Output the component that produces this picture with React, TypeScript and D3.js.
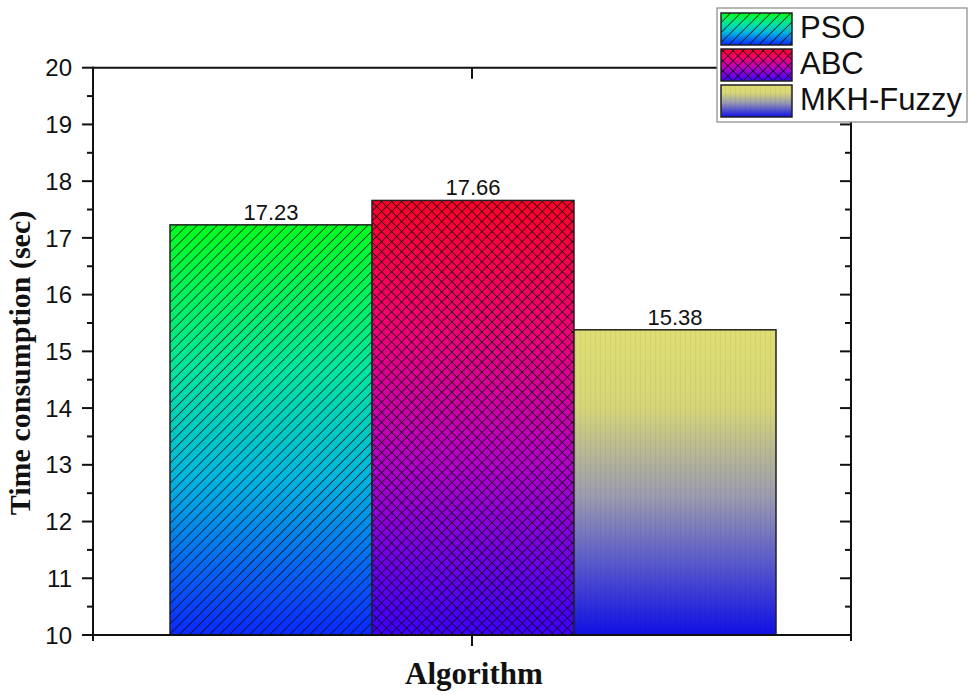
import React from "react";
import * as d3 from "d3";

const series = ["PSO", "ABC", "MKH-Fuzzy"];
const values = [17.23, 17.66, 15.38];
const valueLabels = ["17.23", "17.66", "15.38"];
const yTicks = [10, 11, 12, 13, 14, 15, 16, 17, 18, 19, 20];
const yMinorTicks = [10.5, 11.5, 12.5, 13.5, 14.5, 15.5, 16.5, 17.5, 18.5, 19.5];
const xTitle = "Algorithm";
const yTitle = "Time consumption (sec)";

const W = 971;
const H = 695;
const left = 93;
const right = 851;
const top = 67.7;
const bottom = 635;

export default function App() {
  const y = d3.scaleLinear().domain([10, 20]).range([bottom, top]);
  const x = d3.scaleBand<string>().domain(series).range([170, 776]).padding(0);
  const cx = (left + right) / 2;

  const fills = ["url(#gPSO)", "url(#gABC)", "url(#gMKH)"];
  const hatches = ["url(#hDiag)", "url(#hCross)", "url(#hVert)"];

  return (
    <svg width={W} height={H} style={{ position: "absolute", left: 0, top: 0 }}>
      <defs>
        <linearGradient id="gPSO" x1="0" y1="0" x2="0" y2="1">
          <stop offset="0" stopColor="#00ff1e" />
          <stop offset="0.35" stopColor="#00e6a0" />
          <stop offset="0.62" stopColor="#00b4e0" />
          <stop offset="1" stopColor="#0a28ff" />
        </linearGradient>
        <linearGradient id="gABC" x1="0" y1="0" x2="0" y2="1">
          <stop offset="0" stopColor="#ff0028" />
          <stop offset="0.3" stopColor="#f00078" />
          <stop offset="0.6" stopColor="#b400c8" />
          <stop offset="1" stopColor="#3c00ff" />
        </linearGradient>
        <linearGradient id="gMKH" x1="0" y1="0" x2="0" y2="1">
          <stop offset="0" stopColor="#dede72" />
          <stop offset="0.25" stopColor="#d6d678" />
          <stop offset="0.55" stopColor="#9a9ab0" />
          <stop offset="0.8" stopColor="#4e4ed0" />
          <stop offset="1" stopColor="#1010e6" />
        </linearGradient>
        <pattern id="hDiag" patternUnits="userSpaceOnUse" width="7.1" height="7.1" patternTransform="rotate(45)">
          <line x1="0" y1="0" x2="0" y2="7.1" stroke="#0a0a0a" strokeWidth="1.4" />
        </pattern>
        <pattern id="hCross" patternUnits="userSpaceOnUse" width="7.1" height="7.1" patternTransform="rotate(45)">
          <line x1="0" y1="0" x2="0" y2="7.1" stroke="#0a0a0a" strokeWidth="1.4" />
          <line x1="0" y1="0" x2="7.1" y2="0" stroke="#0a0a0a" strokeWidth="1.4" />
        </pattern>
        <pattern id="hVert" patternUnits="userSpaceOnUse" width="5" height="5">
          <line x1="0" y1="0" x2="0" y2="5" stroke="#000" strokeOpacity="0.06" strokeWidth="1.5" />
        </pattern>
      </defs>
      <rect x={0} y={0} width={W} height={H} fill="#fff" />

      {/* bars */}
      {series.map((s, i) => {
        const bx = x(s) as number;
        const bw = x.bandwidth();
        const by = y(values[i]);
        const bh = y(10) - by;
        return (
          <g key={s}>
            <rect x={bx} y={by} width={bw} height={bh} fill={fills[i]} />
            <rect x={bx} y={by} width={bw} height={bh} fill={hatches[i]} />
            <rect x={bx} y={by} width={bw} height={bh} fill="none" stroke="#222" strokeWidth={1.5} />
            <text
              x={bx + bw / 2}
              y={by - 5}
              textAnchor="middle"
              fontFamily="Liberation Sans, Arial, sans-serif"
              fontSize={22}
              fill="#111"
            >
              {valueLabels[i]}
            </text>
          </g>
        );
      })}

      {/* frame */}
      <line x1={left} x2={right} y1={top} y2={top} stroke="#111" strokeWidth={2} />
      <line x1={left} x2={right} y1={bottom} y2={bottom} stroke="#111" strokeWidth={2} />
      <line x1={left} x2={left} y1={top - 1} y2={bottom + 6} stroke="#111" strokeWidth={2} />
      <line x1={right} x2={right} y1={top - 1} y2={bottom + 6} stroke="#111" strokeWidth={2} />

      {/* y ticks */}
      {yTicks.map((t) => (
        <g key={"t" + t}>
          <line x1={left - 11} x2={left} y1={y(t)} y2={y(t)} stroke="#111" strokeWidth={2} />
          <line x1={right - 11} x2={right} y1={y(t)} y2={y(t)} stroke="#111" strokeWidth={2} />
          <text
            x={72}
            y={y(t)}
            dy="0.36em"
            textAnchor="end"
            fontFamily="Liberation Sans, Arial, sans-serif"
            fontSize={24}
            fill="#111"
          >
            {t}
          </text>
        </g>
      ))}
      {yMinorTicks.map((t) => (
        <g key={"m" + t}>
          <line x1={left - 6} x2={left} y1={y(t)} y2={y(t)} stroke="#111" strokeWidth={2} />
          <line x1={right - 6} x2={right} y1={y(t)} y2={y(t)} stroke="#111" strokeWidth={2} />
        </g>
      ))}

      {/* x ticks */}
      <line x1={cx} x2={cx} y1={bottom} y2={bottom + 11} stroke="#111" strokeWidth={2} />
      <line x1={cx} x2={cx} y1={top} y2={top + 11} stroke="#111" strokeWidth={2} />

      {/* titles */}
      <text
        x={cx + 2}
        y={684}
        textAnchor="middle"
        fontFamily="Liberation Serif, Times New Roman, serif"
        fontWeight="bold"
        fontSize={31}
        fill="#111"
      >
        {xTitle}
      </text>
      <text
        transform={`translate(30, 363) rotate(-90)`}
        textAnchor="middle"
        fontFamily="Liberation Serif, Times New Roman, serif"
        fontWeight="bold"
        fontSize={30}
        fill="#111"
      >
        {yTitle}
      </text>

      {/* legend */}
      <rect x={717} y={8} width={250} height={114} fill="#fff" stroke="#888" strokeWidth={1.2} />
      {series.map((s, i) => {
        const ly = [13, 49, 85][i];
        return (
          <g key={"l" + s}>
            <rect x={721} y={ly} width={71} height={32} fill={fills[i]} />
            <rect x={721} y={ly} width={71} height={32} fill={hatches[i]} />
            <rect x={721} y={ly} width={71} height={32} fill="none" stroke="#222" strokeWidth={1.5} />
            <text
              x={800}
              y={ly + 25}
              fontFamily="Liberation Sans, Arial, sans-serif"
              fontSize={31}
              fill="#111"
            >
              {s}
            </text>
          </g>
        );
      })}
    </svg>
  );
}
